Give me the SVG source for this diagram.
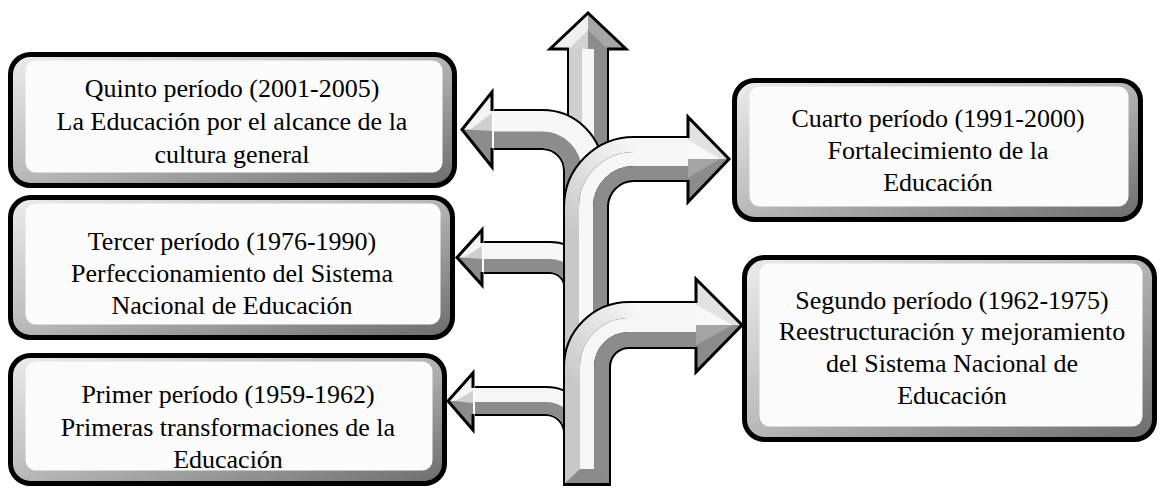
<svg xmlns="http://www.w3.org/2000/svg" width="1161" height="489" viewBox="0 0 1161 489">
<style>
.box{fill:url(#bevel);stroke:#000;stroke-width:5}
.face{fill:#fbfbfb}
.lbl{font-family:"Liberation Serif","Times New Roman",serif;font-size:26px;fill:#000;text-anchor:middle}
.ol{fill:none;stroke:#000;stroke-linejoin:miter}
.hl{stroke:#000;stroke-width:3;fill:none;stroke-linejoin:miter}
.w{fill:none;stroke:#f6f6f6}
.g{fill:none;stroke:#8c8c8c}
.lg{fill:none;stroke:#cfcfcf}
</style>
<defs>
<linearGradient id="bevel" x1="0" y1="0" x2="1" y2="1">
<stop offset="0" stop-color="#ececec"/>
<stop offset="0.45" stop-color="#bdbdbd"/>
<stop offset="1" stop-color="#6c6c6c"/>
</linearGradient>
<linearGradient id="outC" gradientUnits="userSpaceOnUse" x1="572" y1="230" x2="640" y2="150">
<stop offset="0" stop-color="#c8c8c8"/>
<stop offset="1" stop-color="#f6f6f6"/>
</linearGradient>
<linearGradient id="outS" gradientUnits="userSpaceOnUse" x1="572" y1="380" x2="640" y2="312">
<stop offset="0" stop-color="#c8c8c8"/>
<stop offset="1" stop-color="#f6f6f6"/>
</linearGradient>
</defs>

<g id="connectors">
  <!-- up arrow -->
  <g id="arrow-up">
    <path class="ol" stroke-width="42" d="M588 48 L588 215"/>
    <path class="lg" stroke-width="13" d="M575.5 48 L575.5 215"/>
    <path class="w" stroke-width="12" d="M588 48 L588 215"/>
    <path class="g" stroke-width="13" d="M600.5 48 L600.5 215"/>
    <polygon points="588,13 550,49 588,49" fill="#f0f0f0"/>
    <polygon points="588,13 626,49 588,49" fill="#a6a6a6"/>
    <polygon points="569,49 588,30 588,49" fill="#d2d2d2"/>
    <polygon points="607,49 588,30 588,49" fill="#8c8c8c"/>
    <polyline class="hl" points="569,49 550,49 588,13 626,49 607,49"/>
  </g>
  <!-- Quinto arrow (left, curving down) -->
  <g id="arrow-quinto">
    <path class="ol" stroke-width="41" d="M494 129.5 L542.5 129.5 A41 41 0 0 1 583.5 170.5 L583.5 260"/>
    <path class="w" stroke-width="37" d="M494 129.5 L542.5 129.5 A41 41 0 0 1 583.5 170.5 L583.5 260"/>
    <path class="g" stroke-width="16.5" d="M494 139.75 L542.5 139.75 A30.75 30.75 0 0 1 573.25 170.5 L573.25 260"/>
    <polygon points="492,92 462,129.5 492,129.5" fill="#f4f4f4"/>
    <polygon points="462,129.5 492,167 492,129.5" fill="#8c8c8c"/>
    <polygon points="470,129.5 492,113 492,131" fill="#cfcfcf"/>
    <polyline class="hl" points="492,111 492,92 462,129.5 492,167 492,148"/>
  </g>
  <!-- Tercer arrow -->
  <g id="arrow-tercer">
    <path class="ol" stroke-width="33" d="M484 257.5 L550 257.5 A30 30 0 0 1 580 287.5 L580 400"/>
    <path class="w" stroke-width="29" d="M484 257.5 L550 257.5 A30 30 0 0 1 580 287.5 L580 400"/>
    <path class="g" stroke-width="13" d="M484 265.5 L550 265.5 A22 22 0 0 1 572 287.5 L572 400"/>
    <polygon points="482,230 457,257.5 482,257.5" fill="#f4f4f4"/>
    <polygon points="457,257.5 482,285 482,257.5" fill="#8c8c8c"/>
    <polygon points="464,257.5 482,246 482,259" fill="#cfcfcf"/>
    <polyline class="hl" points="482,243 482,230 457,257.5 482,285 482,272"/>
  </g>
  <!-- Primer arrow -->
  <g id="arrow-primer">
    <path class="ol" stroke-width="30" d="M475 401 L546 401 A32 32 0 0 1 578 433 L578 480"/>
    <path class="w" stroke-width="26" d="M475 401 L546 401 A32 32 0 0 1 578 433 L578 480"/>
    <path class="g" stroke-width="12" d="M475 408 L546 408 A25 25 0 0 1 571 433 L571 480"/>
    <polygon points="473,373 448,401 473,401" fill="#f4f4f4"/>
    <polygon points="448,401 473,430 473,401" fill="#8c8c8c"/>
    <polygon points="455,401 473,391 473,403" fill="#cfcfcf"/>
    <polyline class="hl" points="473,388 473,373 448,401 473,430 473,414"/>
  </g>
  <!-- Cuarto arrow (up, curving right) -->
  <g id="arrow-cuarto">
    <path class="ol" stroke-width="46" d="M586 485 L586 207 A48 48 0 0 1 634 159 L690 159"/>
    <path fill="none" stroke="url(#outC)" stroke-width="14" d="M572 485 L572 207 A62 62 0 0 1 634 145 L690 145"/>
    <path class="w" stroke-width="14" d="M586 485 L586 207 A48 48 0 0 1 634 159 L690 159"/>
    <path class="g" stroke-width="14" d="M600 485 L600 207 A34 34 0 0 1 634 173 L690 173"/>
    <polygon points="688,117 729,159 688,159" fill="#e2e2e2"/>
    <polygon points="729,159 688,202 688,159" fill="#8c8c8c"/>
    <polygon points="688,140 720,159 688,159" fill="#f8f8f8"/>
    <polygon points="688,159 720,159 688,178" fill="#a4a4a4"/>
    <polyline class="hl" points="688,138 688,117 729,159 688,202 688,180"/>
  </g>
  <!-- Segundo arrow (up, curving right) -->
  <g id="arrow-segundo">
    <path class="ol" stroke-width="48" d="M587 483 L587 367 A42 42 0 0 1 629 325 L698 325"/>
    <path fill="none" stroke="url(#outS)" stroke-width="15" d="M572.5 483 L572.5 367 A56.5 56.5 0 0 1 629 310.5 L698 310.5"/>
    <path class="w" stroke-width="14" d="M587 483 L587 367 A42 42 0 0 1 629 325 L698 325"/>
    <path class="g" stroke-width="15" d="M601.5 483 L601.5 367 A27.5 27.5 0 0 1 629 339.5 L698 339.5"/>
    <polygon points="565,483 609,483 594,469 580,469" fill="#8a8a8a"/>
    <path d="M563 484.5 L611 484.5" stroke="#000" stroke-width="3"/>
    <polygon points="696,279 742,325 696,325" fill="#e2e2e2"/>
    <polygon points="742,325 696,372 696,325" fill="#8c8c8c"/>
    <polygon points="696,305 733,325 696,325" fill="#f8f8f8"/>
    <polygon points="696,325 733,325 696,345" fill="#a4a4a4"/>
    <polyline class="hl" points="696,303 696,279 742,325 696,372 696,347"/>
  </g>
</g>

<g id="node-quinto">
  <rect class="box" x="10.5" y="54.5" width="444" height="131" rx="20"/>
  <rect class="face" x="25.5" y="60.5" width="417" height="112" rx="10"/>
  <text class="lbl" x="232" y="97">Quinto período (2001-2005)</text>
  <text class="lbl" x="232" y="130">La Educación por el alcance de la</text>
  <text class="lbl" x="232" y="163">cultura general</text>
</g>
<g id="node-tercer">
  <rect class="box" x="10.5" y="197.5" width="442" height="140" rx="20"/>
  <rect class="face" x="25.5" y="203.5" width="415" height="121" rx="10"/>
  <text class="lbl" x="232" y="250">Tercer período (1976-1990)</text>
  <text class="lbl" x="232" y="282">Perfeccionamiento del Sistema</text>
  <text class="lbl" x="232" y="314">Nacional de Educación</text>
</g>
<g id="node-primer">
  <rect class="box" x="10.5" y="355.5" width="434" height="128" rx="20"/>
  <rect class="face" x="25.5" y="361.5" width="407" height="109" rx="10"/>
  <text class="lbl" x="228" y="403">Primer período (1959-1962)</text>
  <text class="lbl" x="228" y="436">Primeras transformaciones de la</text>
  <text class="lbl" x="228" y="468">Educación</text>
</g>
<g id="node-cuarto">
  <rect class="box" x="734.5" y="80.5" width="406" height="139" rx="20"/>
  <rect class="face" x="749.5" y="86.5" width="379" height="120" rx="10"/>
  <text class="lbl" x="938" y="127">Cuarto período (1991-2000)</text>
  <text class="lbl" x="938" y="159">Fortalecimiento de la</text>
  <text class="lbl" x="938" y="191">Educación</text>
</g>
<g id="node-segundo">
  <rect class="box" x="744.5" y="257.5" width="410" height="182" rx="20"/>
  <rect class="face" x="759.5" y="263.5" width="383" height="163" rx="10"/>
  <text class="lbl" x="952" y="309">Segundo período (1962-1975)</text>
  <text class="lbl" x="952" y="340">Reestructuración y mejoramiento</text>
  <text class="lbl" x="952" y="372">del Sistema Nacional de</text>
  <text class="lbl" x="952" y="404">Educación</text>
</g>
</svg>
